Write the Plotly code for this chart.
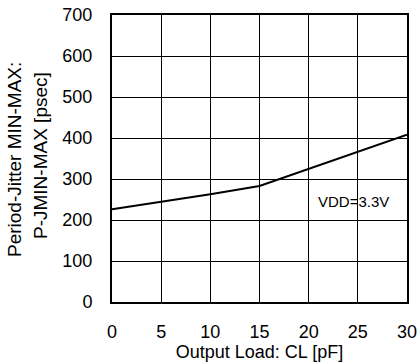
import plotly.graph_objects as go

load_pf = [0, 5, 10, 15, 20, 25, 30]
jitter_ps = [226, 244, 263, 283, 325, 366, 408]

x_ticks = [0, 5, 10, 15, 20, 25, 30]
y_ticks = [0, 100, 200, 300, 400, 500, 600, 700]

x_title = "Output Load: CL [pF]"
y_title_1 = "Period-Jitter MIN-MAX:"
y_title_2 = "P-JMIN-MAX [psec]"
note = "VDD=3.3V"

FONT = "Liberation Sans, Arial, sans-serif"
W, H = 420, 363
ML, MR, MT, MB = 112, 13, 15, 61
pw = W - ML - MR
ph = H - MT - MB

fig = go.Figure()
fig.add_trace(go.Scatter(x=load_pf, y=jitter_ps, mode="lines",
                         line=dict(color="black", width=2), showlegend=False,
                         hoverinfo="skip"))

fig.add_annotation(x=24.6, y=246, xref="x", yref="y", text=note, showarrow=False,
                   font=dict(family=FONT, size=15, color="black"))

def px_to_paper_x(px):
    return (px - ML) / pw

def px_to_paper_y(py):
    return (H - MB - py) / ph

fig.add_annotation(x=px_to_paper_x(14), y=px_to_paper_y(160), xref="paper", yref="paper",
                   text=y_title_1, textangle=-90, showarrow=False,
                   xanchor="center", yanchor="middle",
                   font=dict(family=FONT, size=19, color="black"))
fig.add_annotation(x=px_to_paper_x(40), y=px_to_paper_y(156), xref="paper", yref="paper",
                   text=y_title_2, textangle=-90, showarrow=False,
                   xanchor="center", yanchor="middle",
                   font=dict(family=FONT, size=19, color="black"))

fig.update_xaxes(range=[0, 30], tickvals=x_ticks, ticktext=[str(v) for v in x_ticks],
                 showgrid=True, gridcolor="black", gridwidth=1,
                 showline=True, linecolor="black", linewidth=2, mirror=True,
                 ticks="", ticklabelstandoff=12, zeroline=False, automargin=False,
                 tickfont=dict(family=FONT, size=18, color="black"),
                 title=dict(text=x_title, font=dict(family=FONT, size=18, color="black"), standoff=0))
fig.update_yaxes(range=[0, 700], tickvals=y_ticks, ticktext=[str(v) for v in y_ticks],
                 showgrid=True, gridcolor="black", gridwidth=1,
                 showline=True, linecolor="black", linewidth=2, mirror=True,
                 ticks="", ticklabelstandoff=14, zeroline=False, automargin=False,
                 tickfont=dict(family=FONT, size=18, color="black"))

fig.update_layout(width=W, height=H, margin=dict(l=ML, r=MR, t=MT, b=MB),
                  paper_bgcolor="white", plot_bgcolor="white")

fig.write_html("out.html", config={"displayModeBar": False},
               post_script="document.body.style.margin='0';document.body.style.overflow='hidden';")
